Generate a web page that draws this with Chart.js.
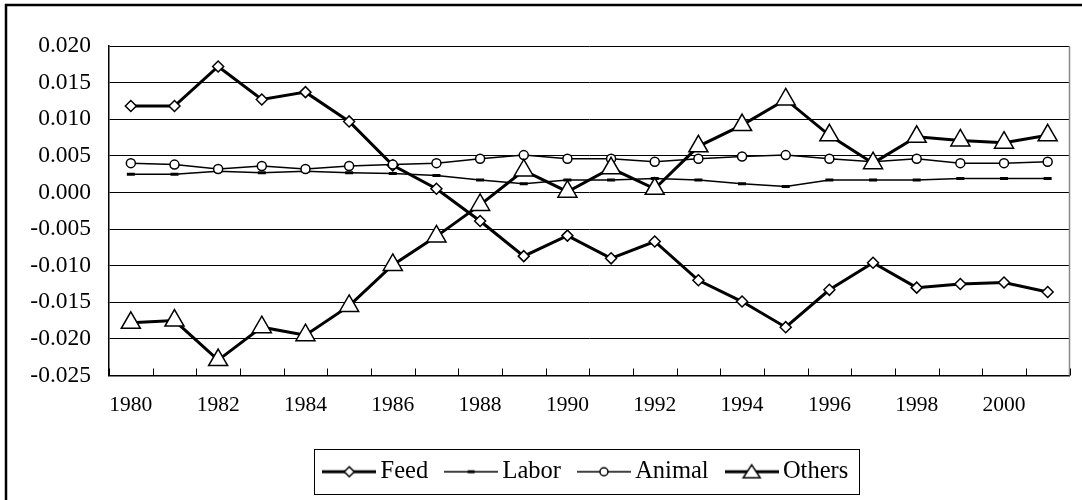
<!DOCTYPE html>
<html>
<head>
<meta charset="utf-8">
<script src="https://cdn.jsdelivr.net/npm/chart.js@4/dist/chart.umd.min.js"></script>
<style>
  html, body { margin: 0; padding: 0; background: #fff; }
  #wrap { width: 1082px; height: 500px; }
</style>
</head>
<body>
<div id="wrap"><canvas id="chart" width="1082" height="500"></canvas></div>
<script>
// Données
const years = ['1980', '1981', '1982', '1983', '1984', '1985', '1986', '1987', '1988', '1989', '1990',
               '1991', '1992', '1993', '1994', '1995', '1996', '1997', '1998', '1999', '2000', '2001'];
const feed = [0.0118, 0.0118, 0.0172, 0.0127, 0.0137, 0.0097, 0.0037, 0.0005, -0.0039, -0.0087, -0.0059,
              -0.0090, -0.0067, -0.0120, -0.0149, -0.0184, -0.0133, -0.0096, -0.0130, -0.0125, -0.0123, -0.0136];
const labor = [0.0025, 0.0025, 0.0029, 0.0027, 0.0029, 0.0027, 0.0026, 0.0023, 0.0017, 0.0012, 0.0017,
               0.0017, 0.0019, 0.0017, 0.0012, 0.0008, 0.0017, 0.0017, 0.0017, 0.0019, 0.0019, 0.0019];
const animal = [0.0040, 0.0038, 0.0032, 0.0036, 0.0032, 0.0036, 0.0038, 0.0040, 0.0046, 0.0051, 0.0046,
                0.0046, 0.0042, 0.0046, 0.0049, 0.0051, 0.0046, 0.0042, 0.0046, 0.0040, 0.0040, 0.0042];
const others = [-0.0178, -0.0175, -0.0229, -0.0184, -0.0195, -0.0155, -0.0099, -0.0060, -0.0017, 0.0030, 0.0001,
                0.0033, 0.0005, 0.0063, 0.0092, 0.0127, 0.0078, 0.0040, 0.0076, 0.0071, 0.0068, 0.0078];
const seriesNames = ['Feed', 'Labor', 'Animal', 'Others'];
const yMin = -0.025;
const yMax = 0.020;
const yStep = 0.005;

const SERIF = "'Liberation Serif', 'Times New Roman', serif";
Chart.defaults.font.family = SERIF;
Chart.defaults.color = '#000';

// Échantillon de légende : ligne + marqueur au milieu
function makeSample(kind, lineWidth) {
    const w = 54, h = 24;
    const c = document.createElement('canvas');
    c.width = w; c.height = h;
    const ctx = c.getContext('2d');
    const cx = w / 2, cy = h / 2;
    ctx.strokeStyle = '#000';
    ctx.lineWidth = lineWidth;
    ctx.beginPath();
    ctx.moveTo(0, cy);
    ctx.lineTo(w, cy);
    ctx.stroke();
    ctx.fillStyle = '#fff';
    ctx.lineWidth = 1.5;
    ctx.beginPath();
    if (kind === 'diamond') {
        ctx.moveTo(cx, cy - 5); ctx.lineTo(cx + 5, cy); ctx.lineTo(cx, cy + 5); ctx.lineTo(cx - 5, cy);
        ctx.closePath(); ctx.fill(); ctx.stroke();
    } else if (kind === 'dash') {
        ctx.fillStyle = '#000';
        ctx.fillRect(cx - 3.5, cy - 1.5, 7, 3);
    } else if (kind === 'circle') {
        ctx.arc(cx, cy, 4, 0, Math.PI * 2);
        ctx.fill(); ctx.stroke();
    } else if (kind === 'triangle') {
        ctx.moveTo(cx - 8.5, cy + 6); ctx.lineTo(cx + 8.5, cy + 6); ctx.lineTo(cx, cy - 7);
        ctx.closePath(); ctx.fill(); ctx.stroke();
    }
    return c;
}

const samples = [makeSample('diamond', 3), makeSample('dash', 1.5), makeSample('circle', 1.5), makeSample('triangle', 3)];

// Cadre extérieur, bord du graphique, petits ticks vers l'intérieur et cadre de légende
const decorations = {
    id: 'decorations',
    beforeDraw(chart) {
        const ctx = chart.ctx;
        ctx.save();
        ctx.fillStyle = '#fff';
        ctx.fillRect(0, 0, chart.width, chart.height);
        ctx.restore();
    },
    afterDraw(chart) {
        const ctx = chart.ctx;
        const area = chart.chartArea;
        const x = chart.scales.x;
        ctx.save();
        // bord droit gris de la zone de tracé
        ctx.strokeStyle = '#888';
        ctx.lineWidth = 1.5;
        ctx.beginPath();
        ctx.moveTo(area.right, area.top);
        ctx.lineTo(area.right, area.bottom);
        ctx.stroke();
        // ticks de l'axe des x, entre les catégories
        ctx.strokeStyle = '#000';
        ctx.lineWidth = 1;
        ctx.beginPath();
        for (let i = 0; i <= years.length; i++) {
            const px = Math.round(x.getPixelForValue(i - 0.5)) + 0.5;
            ctx.moveTo(px, area.bottom - 7);
            ctx.lineTo(px, area.bottom);
        }
        ctx.stroke();
        // cadre de la légende
        const boxes = chart.legend.legendHitBoxes;
        if (boxes.length) {
            const first = boxes[0], last = boxes[boxes.length - 1];
            const midY = first.top + first.height / 2;
            ctx.lineWidth = 1;
            ctx.strokeRect(Math.round(first.left - 16) + 0.5, Math.round(midY - 23) + 0.5,
                Math.round(last.left + last.width + 11 - (first.left - 16)), 45);
        }
        // cadre extérieur (gauche et haut)
        ctx.lineWidth = 2.5;
        ctx.beginPath();
        ctx.moveTo(6, chart.height);
        ctx.lineTo(6, 5);
        ctx.lineTo(chart.width, 5);
        ctx.stroke();
        ctx.restore();
    }
};

new Chart(document.getElementById('chart'), {
    type: 'line',
    data: {
        labels: years,
        datasets: [
            {
                label: seriesNames[0], data: feed, order: 4,
                borderColor: '#000', borderWidth: 3, tension: 0,
                pointStyle: 'rectRot', pointRadius: 5.5, pointBackgroundColor: '#fff',
                pointBorderColor: '#000', pointBorderWidth: 1.5
            },
            {
                label: seriesNames[1], data: labor, order: 3,
                borderColor: '#000', borderWidth: 1.5, tension: 0,
                pointStyle: 'line', pointRadius: 4, pointBorderColor: '#000', pointBorderWidth: 3
            },
            {
                label: seriesNames[2], data: animal, order: 2,
                borderColor: '#000', borderWidth: 1.5, tension: 0,
                pointStyle: 'circle', pointRadius: 4.5, pointBackgroundColor: '#fff',
                pointBorderColor: '#000', pointBorderWidth: 1.5
            },
            {
                label: seriesNames[3], data: others, order: 1,
                borderColor: '#000', borderWidth: 3, tension: 0,
                pointStyle: 'triangle', pointRadius: 11, pointBackgroundColor: '#fff',
                pointBorderColor: '#000', pointBorderWidth: 1.5
            }
        ]
    },
    options: {
        responsive: false,
        animation: false,
        events: [],
        layout: { padding: { left: 0, right: 9, top: 46, bottom: 6 } },
        scales: {
            x: {
                offset: true,
                grid: { display: true, drawOnChartArea: false, drawTicks: false },
                border: { color: '#000', width: 1.5 },
                ticks: {
                    autoSkip: false, maxRotation: 0, padding: 17, color: '#000',
                    font: { family: SERIF, size: 21.5 },
                    callback: (v, i) => (i % 2 === 0 ? years[i] : '')
                },
                afterFit: (scale) => { scale.height = 60; }
            },
            y: {
                min: yMin, max: yMax,
                grid: { color: '#000', lineWidth: 1, drawTicks: false },
                border: { color: '#000', width: 1.5 },
                ticks: {
                    stepSize: yStep, padding: 18, color: '#000',
                    font: { family: SERIF, size: 23.5 },
                    callback: (v) => (Math.abs(v) < 1e-9 ? 0 : v).toFixed(3)
                },
                afterFit: (scale) => { scale.width = 109; }
            }
        },
        plugins: {
            tooltip: { enabled: false },
            legend: {
                position: 'bottom',
                fullSize: false,
                labels: {
                    usePointStyle: true,
                    pointStyleWidth: 38,
                    padding: 24,
                    color: '#000',
                    font: { family: SERIF, size: 24.5 },
                    generateLabels: (chart) => chart.data.datasets.map((ds, i) => ({
                        text: ds.label,
                        pointStyle: samples[i],
                        datasetIndex: i,
                        hidden: false,
                        fontColor: '#000',
                        lineWidth: 0
                    }))
                }
            }
        }
    },
    plugins: [decorations]
});
</script>
</body>
</html>
